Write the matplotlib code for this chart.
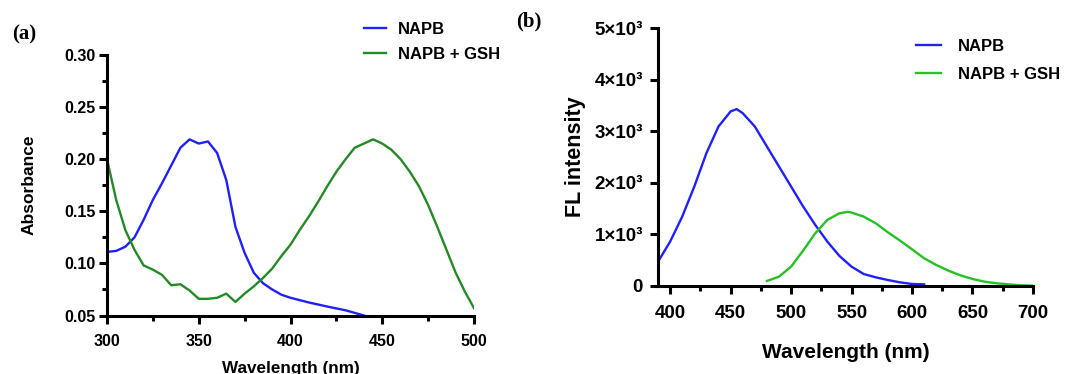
import numpy as np
import matplotlib.pyplot as plt
from matplotlib.ticker import MultipleLocator, FixedLocator, FuncFormatter

# ---------- data: (a) absorbance ----------
wl_abs_napb = [300, 305, 310, 315, 320, 325, 330, 335, 340, 345, 350, 355, 360,
               365, 370, 375, 380, 385, 390, 395, 400, 410, 420, 430, 440]
abs_napb = [0.111, 0.112, 0.116, 0.125, 0.142, 0.161, 0.177, 0.194, 0.211, 0.219,
            0.215, 0.217, 0.206, 0.180, 0.135, 0.110, 0.091, 0.081, 0.075, 0.070,
            0.067, 0.0625, 0.0586, 0.055, 0.050]

wl_abs_gsh = [300, 305, 310, 315, 320, 325, 330, 335, 340, 345, 350, 355, 360,
              365, 370, 375, 380, 385, 390, 395, 400, 405, 410, 415, 420, 425,
              430, 435, 440, 445, 450, 455, 460, 465, 470, 475, 480, 485, 490,
              495, 500]
abs_gsh = [0.200, 0.161, 0.132, 0.113, 0.098, 0.094, 0.089, 0.079, 0.080, 0.074,
           0.066, 0.066, 0.067, 0.071, 0.063, 0.071, 0.078, 0.086, 0.095, 0.107,
           0.118, 0.132, 0.145, 0.159, 0.174, 0.188, 0.200, 0.211, 0.215, 0.219,
           0.215, 0.209, 0.200, 0.188, 0.174, 0.156, 0.135, 0.113, 0.091, 0.073,
           0.057]

# ---------- data: (b) fluorescence ----------
wl_fl_napb = [390, 400, 410, 420, 430, 440, 450, 455, 460, 470, 480, 490, 500,
              510, 520, 530, 540, 550, 560, 570, 580, 590, 600, 610]
fl_napb = [472, 860, 1345, 1928, 2575, 3092, 3383, 3428, 3350, 3092, 2704, 2316,
           1928, 1540, 1184, 860, 582, 375, 233, 168, 116, 71, 39, 32]

wl_fl_gsh = [480, 490, 500, 510, 520, 530, 540, 547, 550, 560, 570, 580, 590,
             600, 610, 620, 630, 640, 650, 660, 670, 680, 690, 700]
fl_gsh = [97, 181, 375, 686, 1022, 1281, 1410, 1436, 1423, 1345, 1216, 1041, 880,
          711, 537, 408, 298, 207, 136, 84, 52, 32, 13, 6]

plt.rcParams["font.family"] = ["Liberation Sans", "DejaVu Sans"]
plt.rcParams["font.weight"] = "bold"

BLUE = "#1f1fff"
GREEN_A = "#238b23"
GREEN_B = "#22c322"

fig = plt.figure(figsize=(10.83, 3.74), dpi=100)
ax1 = fig.add_axes([0.0988, 0.1564, 0.3389, 0.6966])
ax2 = fig.add_axes([0.6076, 0.2353, 0.3462, 0.6898])


def style(ax, lsize, xpad, ypad):
    for s in ("top", "right"):
        ax.spines[s].set_visible(False)
    for s in ("left", "bottom"):
        ax.spines[s].set_linewidth(2.2)
    ax.tick_params(which="major", direction="out", length=6, width=2.2, labelsize=lsize)
    ax.tick_params(which="minor", direction="out", length=3.5, width=2.2)
    ax.tick_params(axis="x", which="major", pad=xpad)
    ax.tick_params(axis="y", which="major", pad=ypad)
    for lbl in ax.get_xticklabels() + ax.get_yticklabels():
        lbl.set_fontweight("bold")


# Panel (a)
ax1.plot(wl_abs_napb, abs_napb, color=BLUE, lw=1.7, label="NAPB")
ax1.plot(wl_abs_gsh, abs_gsh, color=GREEN_A, lw=1.7, label="NAPB + GSH")
ax1.set_xlim(300, 500)
ax1.set_ylim(0.05, 0.30)
ax1.xaxis.set_major_locator(MultipleLocator(50))
ax1.xaxis.set_minor_locator(MultipleLocator(25))
ax1.yaxis.set_major_locator(MultipleLocator(0.05))
ax1.yaxis.set_minor_locator(MultipleLocator(0.025))
ax1.yaxis.set_major_formatter(FuncFormatter(lambda v, p: f"{v:.2f}"))
style(ax1, 11.5, 7, 2)
ax1.set_xlabel("Wavelength (nm)", fontsize=12.3, fontweight="bold", labelpad=9)
ax1.set_ylabel("Absorbance", fontsize=12.5, fontweight="bold", labelpad=20)
ax1.legend(loc="upper left", bbox_to_anchor=(0.66, 1.185), frameon=False,
           fontsize=12, handlelength=1.3, handletextpad=0.72, labelspacing=0.63)

# Panel (b)
ax2.plot(wl_fl_napb, fl_napb, color=BLUE, lw=1.7, label="NAPB")
ax2.plot(wl_fl_gsh, fl_gsh, color=GREEN_B, lw=1.7, label="NAPB + GSH")
ax2.set_xlim(390, 700)
ax2.set_ylim(0, 5000)
ax2.xaxis.set_major_locator(FixedLocator([400, 450, 500, 550, 600, 650, 700]))
ax2.xaxis.set_minor_locator(FixedLocator([425, 475, 525, 575, 625, 675]))
ax2.yaxis.set_major_locator(MultipleLocator(1000))
ax2.yaxis.set_major_formatter(
    FuncFormatter(lambda v, p: "0" if v == 0 else f"{int(v / 1000)}×10³"))
style(ax2, 13.5, 8, 5)
ax2.set_xlabel("Wavelength (nm)", fontsize=15, fontweight="bold", labelpad=15)
ax2.set_ylabel("FL intensity", fontsize=15.5, fontweight="bold", labelpad=6)
ax2.legend(loc="upper left", bbox_to_anchor=(0.648, 1.015), frameon=False,
           fontsize=12, handlelength=1.5, handletextpad=1.0, labelspacing=0.78)

fig.text(0.011, 0.895, "(a)", family="Liberation Serif", fontweight="bold", fontsize=15)
fig.text(0.477, 0.93, "(b)", family="Liberation Serif", fontweight="bold", fontsize=15)

fig.savefig("out.png", dpi=100, facecolor="white")
